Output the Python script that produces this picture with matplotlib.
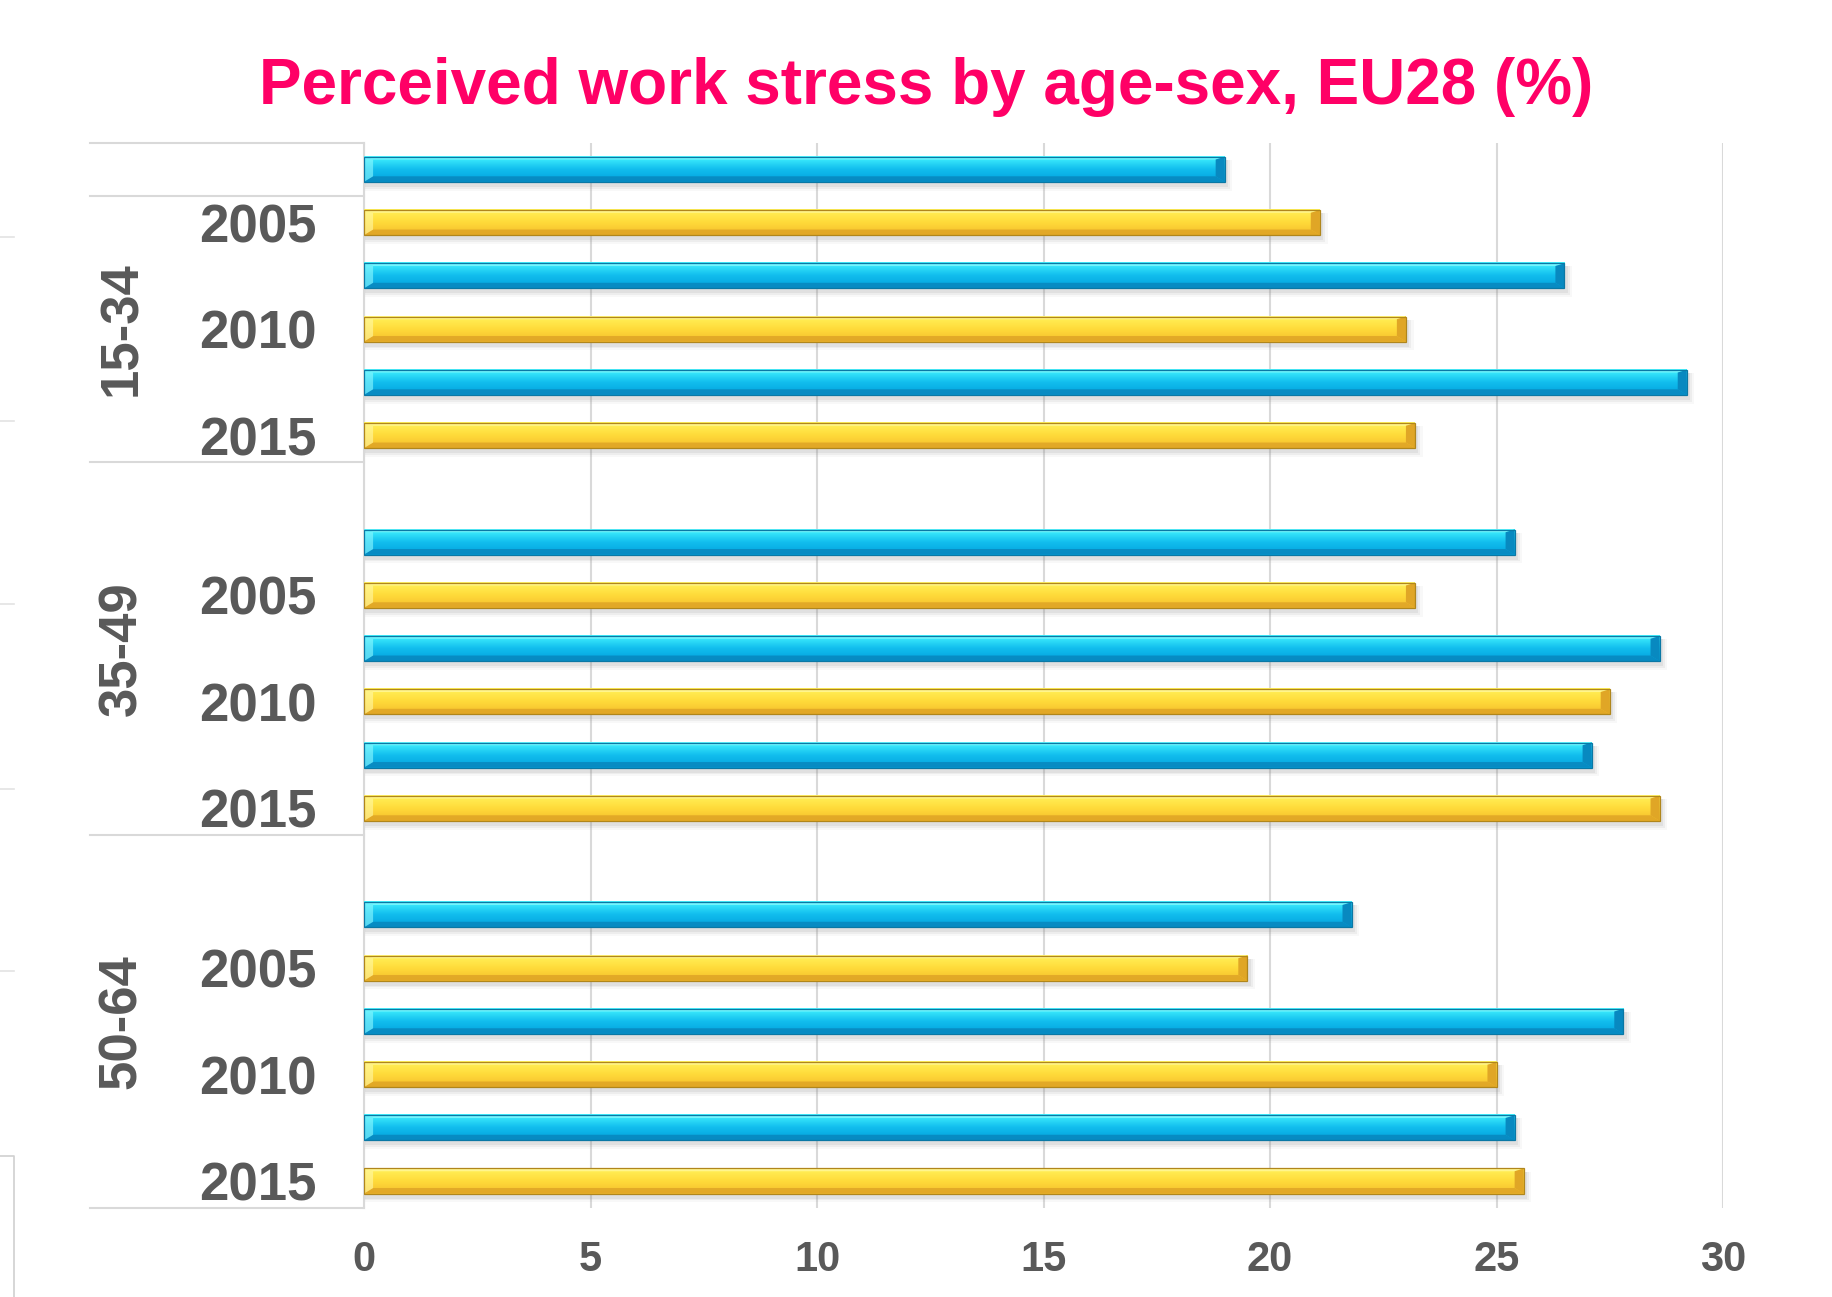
import matplotlib
matplotlib.use("Agg")
import matplotlib.pyplot as plt
import numpy as np
from matplotlib.colors import LinearSegmentedColormap
from matplotlib.lines import Line2D
from matplotlib.patches import Polygon, Rectangle
from matplotlib.transforms import blended_transform_factory

# data
age_groups = ["15-34", "35-49", "50-64"]
years = ["2005", "2010", "2015"]
blue_values = [
    [19.0, 26.5, 29.2],
    [25.4, 28.6, 27.1],
    [21.8, 27.8, 25.4],
]
yellow_values = [
    [21.1, 23.0, 23.2],
    [23.2, 27.5, 28.6],
    [19.5, 25.0, 25.6],
]
x_ticks = [0, 5, 10, 15, 20, 25, 30]

TITLE = "Perceived work stress by age-sex, EU28 (%)"
TITLE_COLOR = "#FF0066"
TEXT_COLOR = "#595959"
GRID_COLOR = "#D9D9D9"
BAR_H = 0.47

BLUE = {"top": "#44F4FF", "mid": "#12BEEE", "bot": "#02A2DD",
        "light": "#8FFAFF", "dark": "#0A78A5", "side": "#0889C0"}
YELLOW = {"top": "#FFF25A", "mid": "#FFDB3A", "bot": "#F5BD2C",
          "light": "#FFF9A8", "dark": "#B0861C", "side": "#E0A626"}

plt.rcParams["font.family"] = ["Liberation Sans", "DejaVu Sans"]
plt.rcParams["font.weight"] = "bold"

fig = plt.figure(figsize=(18.33, 12.97), dpi=100)
fig.patch.set_facecolor("white")
ax = fig.add_axes([0.1986, 0.0689, 0.7414, 0.8211])
ax.set_facecolor("white")


def draw_bar(y, value, pal):
    # soft drop shadow
    for k, a in enumerate([0.11, 0.08, 0.05]):
        grow = 0.035 * (k + 1)
        ax.add_patch(Rectangle((0.02, y - BAR_H / 2 + 0.06), value + 0.05 * (k + 1),
                               BAR_H + grow, facecolor="#7A7A7A", edgecolor="none",
                               alpha=a, zorder=2))
    top = y - BAR_H / 2
    bot = y + BAR_H / 2
    cmap = LinearSegmentedColormap.from_list("g", [pal["top"], pal["mid"], pal["bot"]])
    grad = np.linspace(0, 1, 64).reshape(-1, 1)
    ax.imshow(grad, cmap=cmap, aspect="auto", origin="upper",
              extent=(0, value, bot, top), zorder=3, interpolation="bicubic")
    dx = 0.2
    dy = BAR_H * 0.22
    faces = [
        ([(0, top), (value, top), (value - dx, top + dy * 0.5), (dx, top + dy * 0.5)], pal["light"], 0.7),
        ([(0, bot), (value, bot), (value - dx, bot - dy), (dx, bot - dy)], pal["side"], 0.9),
        ([(value, top), (value, bot), (value - dx, bot - dy), (value - dx, top + dy * 0.5)], pal["side"], 1.0),
        ([(0, top), (0, bot), (dx, bot - dy), (dx, top + dy * 0.5)], pal["light"], 0.6),
    ]
    for pts, col, al in faces:
        ax.add_patch(Polygon(pts, closed=True, facecolor=col, edgecolor="none", alpha=al, zorder=4))
    ax.add_patch(Rectangle((0, top), value, BAR_H, facecolor="none",
                           edgecolor=pal["dark"], linewidth=0.9, zorder=5))


# build the row layout: a blank row separates the age groups
row = 0
year_rows = []
year_labels = []
group_bounds = [-0.5, 0.5]
for gi, age in enumerate(age_groups):
    if gi > 0:
        row += 1
    for yi, yr in enumerate(years):
        draw_bar(row, blue_values[gi][yi], BLUE)
        draw_bar(row + 1, yellow_values[gi][yi], YELLOW)
        year_rows.append(row + 1)
        year_labels.append(yr)
        row += 2
    group_bounds.append(row - 0.5)
n_rows = row
age_label_rows = [3, 9, 16]

ax.set_xlim(0, 30)
ax.set_ylim(n_rows - 0.5, -0.5)
ax.set_xticks(x_ticks)
ax.set_xticklabels([str(t) for t in x_ticks])
ax.set_yticks(year_rows)
ax.set_yticklabels(year_labels)
ax.tick_params(axis="y", length=0, pad=34, labelsize=38, labelcolor=TEXT_COLOR)
ax.tick_params(axis="x", length=0, pad=23, labelsize=30, labelcolor=TEXT_COLOR)
for lab in ax.get_xticklabels() + ax.get_yticklabels():
    lab.set_fontweight("bold")

ax.grid(axis="x", color=GRID_COLOR, linewidth=1.5, zorder=0)
ax.set_axisbelow(True)
for name, spine in ax.spines.items():
    spine.set_visible(name == "left")
ax.spines["left"].set_color(GRID_COLOR)
ax.spines["left"].set_linewidth(1.5)

trans = blended_transform_factory(ax.transAxes, ax.transData)
for yb in group_bounds:
    ax.add_line(Line2D([-0.202, 0], [yb, yb], transform=trans, color=GRID_COLOR,
                       linewidth=1.5, clip_on=False))
for age, yr in zip(age_groups, age_label_rows):
    ax.text(-0.178, yr, age, transform=trans, rotation=90, ha="center", va="center",
            fontsize=38, fontweight="bold", color=TEXT_COLOR)

fig.text(0.505, 0.933, TITLE, ha="center", va="center", fontsize=46,
         fontweight="bold", color=TITLE_COLOR)

# slivers of a neighbouring object at the left edge of the reference
for fy in [237, 421, 604, 789, 971]:
    fig.add_artist(Line2D([0, 14 / 1833], [1 - fy / 1297] * 2, color="#E3E3E3", linewidth=1.2))
fig.add_artist(Line2D([0, 14 / 1833, 14 / 1833], [1 - 1156 / 1297, 1 - 1156 / 1297, 0],
                      color="#D0D0D0", linewidth=1.2))

fig.savefig("out.png", dpi=100, facecolor="white")
